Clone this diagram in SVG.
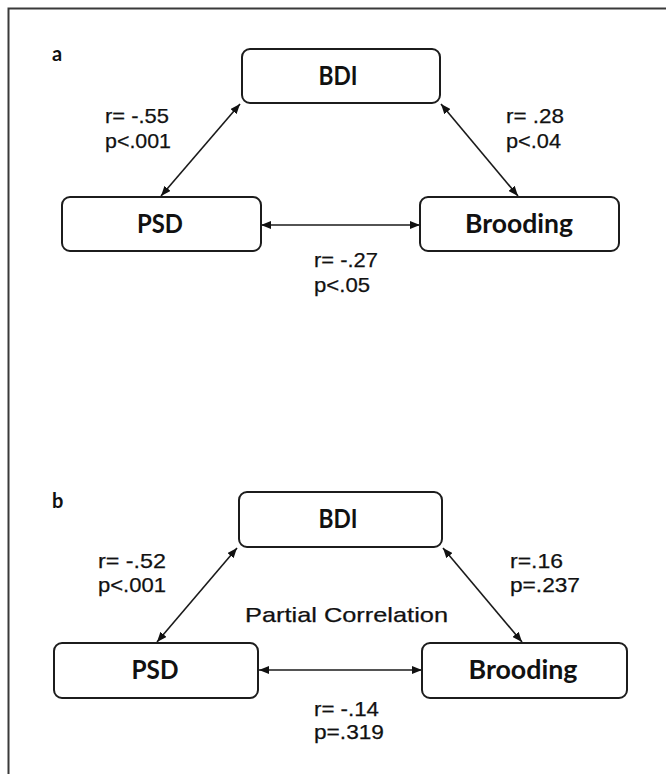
<svg xmlns="http://www.w3.org/2000/svg" width="666" height="774" viewBox="0 0 666 774">
<style>
.box{fill:#fff;stroke:#1c1c1c;stroke-width:2}
.nt{font-family:Lato,"Open Sans","Liberation Sans",sans-serif;font-weight:700;font-size:26px;fill:#111;text-anchor:middle}
.lb{font-family:"Liberation Sans",Arial,sans-serif;font-size:21px;fill:#111;stroke:#111;stroke-width:0.25}
.pl{font-family:Lato,"Liberation Sans",sans-serif;font-weight:700;font-size:20px;fill:#111}
.cn{stroke:#1a1a1a;stroke-width:1.6;fill:none;marker-start:url(#ah);marker-end:url(#ah)}
</style>
<defs>
<marker id="ah" markerUnits="userSpaceOnUse" markerWidth="11" markerHeight="8" refX="10" refY="4" orient="auto-start-reverse">
<path d="M0,0 L10,4 L0,8 z" fill="#111"/>
</marker>
</defs>
<rect width="666" height="774" fill="#fff"/>
<path d="M8.5,780 L8.5,8.5 L670,8.5" fill="none" stroke="#3a3a3a" stroke-width="2"/>

<text class="pl" x="52" y="61">a</text>
<text class="pl" x="52" y="508">b</text>

<g id="connectors">
<line class="cn" x1="161" y1="196" x2="240" y2="104"/>
<line class="cn" x1="441" y1="104" x2="518" y2="196"/>
<line class="cn" x1="261" y1="225" x2="420" y2="225"/>
<line class="cn" x1="157" y1="642" x2="237" y2="548"/>
<line class="cn" x1="443" y1="548" x2="522" y2="642"/>
<line class="cn" x1="259" y1="670" x2="422" y2="670"/>
</g>

<g id="a-bdi"><rect class="box" x="242" y="49" width="198" height="54" rx="8"/><text class="nt" x="338" y="85" textLength="39" lengthAdjust="spacingAndGlyphs">BDI</text></g>
<g id="a-psd"><rect class="box" x="62" y="197" width="199" height="54" rx="8"/><text class="nt" x="160" y="232.5" textLength="46" lengthAdjust="spacingAndGlyphs">PSD</text></g>
<g id="a-brooding"><rect class="box" x="420" y="197" width="199" height="54" rx="8"/><text class="nt" x="519" y="232.5" textLength="108" lengthAdjust="spacingAndGlyphs">Brooding</text></g>

<g id="a-labels">
<text class="lb" x="105" y="123" textLength="64" lengthAdjust="spacingAndGlyphs">r= -.55</text>
<text class="lb" x="105" y="148" textLength="66" lengthAdjust="spacingAndGlyphs">p&lt;.001</text>
<text class="lb" x="506" y="123" textLength="58" lengthAdjust="spacingAndGlyphs">r= .28</text>
<text class="lb" x="506" y="148" textLength="55" lengthAdjust="spacingAndGlyphs">p&lt;.04</text>
<text class="lb" x="314" y="267" textLength="64" lengthAdjust="spacingAndGlyphs">r= -.27</text>
<text class="lb" x="314" y="292" textLength="56" lengthAdjust="spacingAndGlyphs">p&lt;.05</text>
</g>

<g id="b-bdi"><rect class="box" x="239" y="492" width="203" height="55" rx="8"/><text class="nt" x="338" y="528" textLength="39" lengthAdjust="spacingAndGlyphs">BDI</text></g>
<g id="b-psd"><rect class="box" x="54" y="643" width="204" height="55" rx="8"/><text class="nt" x="155" y="679" textLength="47" lengthAdjust="spacingAndGlyphs">PSD</text></g>
<g id="b-brooding"><rect class="box" x="422" y="643" width="205" height="55" rx="8"/><text class="nt" x="523" y="679" textLength="109" lengthAdjust="spacingAndGlyphs">Brooding</text></g>

<g id="b-labels">
<text class="lb" x="98" y="568" textLength="68" lengthAdjust="spacingAndGlyphs">r= -.52</text>
<text class="lb" x="98" y="592" textLength="68" lengthAdjust="spacingAndGlyphs">p&lt;.001</text>
<text class="lb" x="510" y="568" textLength="53" lengthAdjust="spacingAndGlyphs">r=.16</text>
<text class="lb" x="510" y="592" textLength="70" lengthAdjust="spacingAndGlyphs">p=.237</text>
<text class="lb" x="245" y="622" font-size="24" textLength="203" lengthAdjust="spacingAndGlyphs">Partial Correlation</text>
<text class="lb" x="314" y="716" textLength="65" lengthAdjust="spacingAndGlyphs">r= -.14</text>
<text class="lb" x="314" y="739" textLength="70" lengthAdjust="spacingAndGlyphs">p=.319</text>
</g>
</svg>
